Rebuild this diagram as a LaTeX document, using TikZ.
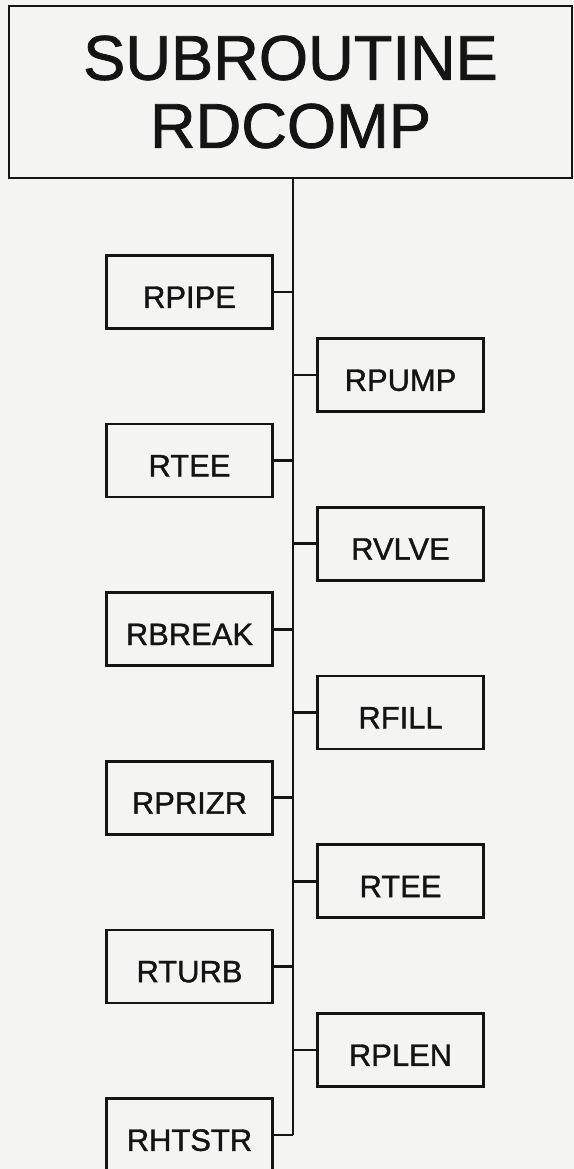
\documentclass[tikz,border=0pt]{standalone}
\usepackage{fontspec}
\setsansfont{Liberation Sans}[
  BoldFont=Liberation Sans,
  BoldFeatures={FakeBold=1.2}
]
\definecolor{scanPaper}{HTML}{F4F5F3}
\definecolor{scanInk}{HTML}{141414}

\begin{document}
\begin{tikzpicture}[
  x=0.02cm,y=-0.02cm,
  font=\sffamily\bfseries\fontsize{17.6}{20}\selectfont,
  every node/.style={
    text=scanInk,align=center,outer sep=0pt
  },
  routine/.style={
    draw=scanInk,
    line width=1.5pt,
    minimum width=3.32cm,
    minimum height=1.46cm,
    inner sep=0pt,
    text height=18pt,
    text depth=0pt
  },
  link/.style={
    draw=scanInk,
    line width=1.5pt
  }
]
\path[use as bounding box,fill=scanPaper] (0,0) rectangle (574,1169);

% Calling subroutine
\node[
  draw=scanInk,
  line width=1.5pt,
  minimum width=11.26cm,
  minimum height=3.44cm,
  inner sep=0pt,
  font=\sffamily\bfseries\fontsize{36}{38.7}\selectfont
] (title) at (290.5,92)
  {SUBROUTINE\\RDCOMP};

% Left column of called routines
\foreach \name/\lbl/\y in {
  pipe/RPIPE/292,
  tee/RTEE/460.6,
  break/RBREAK/629.2,
  prizr/RPRIZR/797.8,
  turb/RTURB/966.4,
  htstr/RHTSTR/1135
}{
  \node[routine] (\name) at (189.5,\y) {\lbl};
}

% Right column of called routines
\foreach \name/\lbl/\y in {
  pump/RPUMP/375,
  vlve/RVLVE/543.75,
  fill/RFILL/712.5,
  teeb/RTEE/881.25,
  plen/RPLEN/1050
}{
  \node[routine] (\name) at (400.5,\y) {\lbl};
}

% Trunk line and branches
\coordinate (trunk) at (293,0);
\draw[link] (title.south -| trunk) -- (htstr.east -| trunk);

\foreach \name in {pipe,tee,break,prizr,turb,htstr,pump,vlve,fill,teeb,plen}{
  \draw[link] (\name) -- (\name -| trunk);
}

\end{tikzpicture}
\end{document}
